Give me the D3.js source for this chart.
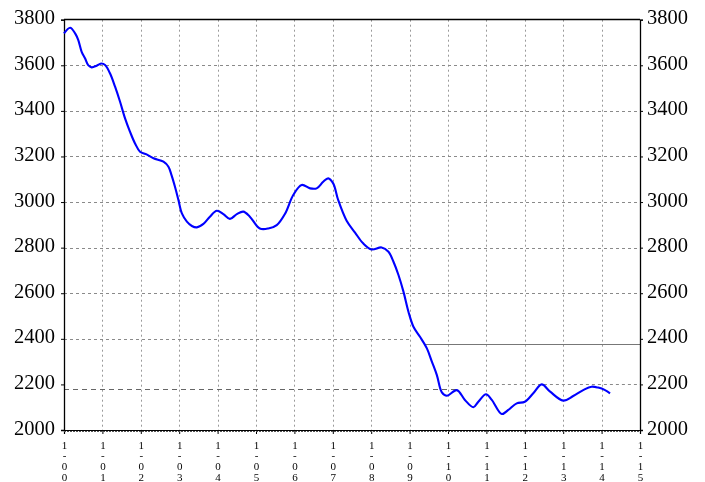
<!DOCTYPE html>
<html><head><meta charset="utf-8">
<script src="https://cdn.jsdelivr.net/npm/d3@7/dist/d3.min.js"></script>
<style>body{margin:0;background:#fff}svg{display:block}
svg text{font-family:"Liberation Serif",serif;fill:#000}
.txt{opacity:0.99;will-change:transform}</style>
</head><body>
<svg id="c" width="705" height="482"></svg>
<script>
const xTickLabels = ["1-00","1-01","1-02","1-03","1-04","1-05","1-06","1-07","1-08","1-09","1-10","1-11","1-12","1-13","1-14","1-15"];
const yTickValues = [2000,2200,2400,2600,2800,3000,3200,3400,3600,3800];
const xPos = [0,0.16,0.29,0.37,0.46,0.55,0.63,0.72,0.85,0.98,1.07,1.2,1.33,1.46,1.59,1.72,1.85,1.98,2.15,2.33,2.59,2.72,2.8,2.89,2.98,3.07,3.2,3.33,3.46,3.63,3.8,3.98,4.15,4.32,4.5,4.67,4.84,5.1,5.32,5.54,5.76,5.97,6.19,6.41,6.58,6.75,6.88,7.01,7.14,7.36,7.58,7.79,8.01,8.27,8.45,8.58,8.71,8.84,8.97,9.1,9.27,9.45,9.58,9.71,9.84,9.97,10.23,10.44,10.66,10.79,10.99,11.14,11.4,11.57,11.79,12.0,12.22,12.44,12.66,13.0,13.26,13.52,13.74,13.91,14.09,14.22];
const values = [3740,3765,3740,3711,3659,3630,3601,3591,3598,3608,3601,3564,3506,3440,3367,3308,3257,3221,3209,3192,3177,3155,3118,3067,3009,2950,2914,2895,2889,2904,2936,2962,2947,2926,2947,2958,2936,2884,2884,2899,2950,3031,3075,3060,3060,3089,3104,3082,3009,2918,2866,2819,2792,2801,2782,2738,2680,2607,2519,2453,2409,2358,2300,2241,2165,2150,2175,2132,2100,2124,2157,2132,2070,2088,2117,2124,2161,2200,2168,2129,2149,2175,2190,2186,2175,2161];
// reference lines: [value, fromX, toX]
const solidRef = [2376, 9.4, 15];
const dashedRef = [2180, 0, 10.31];

const svg = d3.select("#c");
const x = d3.scaleLinear().domain([0,15]).range([64,640]);
const y = d3.scaleLinear().domain([2000,3800]).range([430,19.7]);

// vertical grid
svg.append("g").selectAll("line").data(d3.range(1,15)).join("line")
  .attr("x1",d=>Math.round(x(d))+0.5).attr("x2",d=>Math.round(x(d))+0.5).attr("y1",y(3800)).attr("y2",y(2000))
  .attr("stroke","#9a9a9a").attr("stroke-width",1).attr("stroke-dasharray","2,3");
// horizontal grid
const hg = yTickValues.filter(v=>v>2000 && v<3800).map(v=>{
  let a=0,b=15;
  if(v===2400){b=9;}
  if(v===2200){a=dashedRef[2];}
  return {v,a,b};
});
svg.append("g").selectAll("line").data(hg).join("line")
  .attr("x1",d=>x(d.a)).attr("x2",d=>x(d.b)).attr("y1",d=>Math.round(y(d.v))+0.5).attr("y2",d=>Math.round(y(d.v))+0.5)
  .attr("stroke","#8a8a8a").attr("stroke-width",1).attr("stroke-dasharray","3,3");
// reference lines
svg.append("line").attr("x1",x(solidRef[1])).attr("x2",x(solidRef[2]))
  .attr("y1",Math.round(y(solidRef[0]))+0.5).attr("y2",Math.round(y(solidRef[0]))+0.5)
  .attr("stroke","#777").attr("stroke-width",1);
svg.append("line").attr("x1",x(dashedRef[1])).attr("x2",x(dashedRef[2]))
  .attr("y1",Math.round(y(dashedRef[0]))+0.5).attr("y2",Math.round(y(dashedRef[0]))+0.5)
  .attr("stroke","#666").attr("stroke-width",1).attr("stroke-dasharray","5,4");

// frame top
svg.append("line").attr("x1",x(0)).attr("x2",x(15)).attr("y1",19.5).attr("y2",19.5).attr("stroke","#000").attr("stroke-width",1.3);

// left/right axes
const gl = svg.append("g").attr("transform",`translate(${x(0)},0)`)
  .call(d3.axisLeft(y).tickValues(yTickValues).tickSize(3).tickFormat(d3.format("d")));
const gr = svg.append("g").attr("transform",`translate(${x(15)},0)`)
  .call(d3.axisRight(y).tickValues(yTickValues).tickSize(3).tickFormat(d3.format("d")));
[gl,gr].forEach(g=>{
  g.attr("font-family",null).attr("font-size",null);
  g.select(".domain").attr("stroke","#000").attr("stroke-width",1.3);
  g.selectAll(".tick line").attr("stroke","#000");
  g.selectAll("text").classed("txt",true).style("font-size","20.5px").attr("dy",null).attr("y",4);
});
gl.selectAll("text").attr("x",-9);
gr.selectAll("text").attr("x",7);

// bottom axis
const gb = svg.append("g").attr("transform",`translate(0,430)`)
  .call(d3.axisBottom(x).tickValues(d3.range(0,16)).tickSize(4).tickFormat(""));
gb.select(".domain").attr("stroke","#000").attr("stroke-width",1.2);
gb.selectAll(".tick line").attr("stroke","#000");
svg.append("line").attr("x1",x(0)).attr("x2",x(15)).attr("y1",431.5).attr("y2",431.5)
  .attr("stroke","#555").attr("stroke-dasharray","2,1");
// stacked x labels
const baselines = [448.5,459,470.2,481.2];
const lab = svg.append("g").attr("class","txt").selectAll("text").data(xTickLabels).join("text")
  .style("font-size","11px").attr("text-anchor","middle");
lab.each(function(d,i){
  const t=d3.select(this);
  d.split("").forEach((ch,k)=>{
    t.append("tspan").attr("x",x(i)+0.5).attr("y",baselines[k]).text(ch);
  });
});

// series
const pts = xPos.map((p,i)=>[p,values[i]]);
svg.append("path").datum(pts)
  .attr("fill","none").attr("stroke","#0000ff").attr("stroke-width",2.1).attr("stroke-linejoin","round")
  .attr("d",d3.line().x(d=>x(d[0])).y(d=>y(d[1])).curve(d3.curveCatmullRom.alpha(0.5)));
</script>
</body></html>
